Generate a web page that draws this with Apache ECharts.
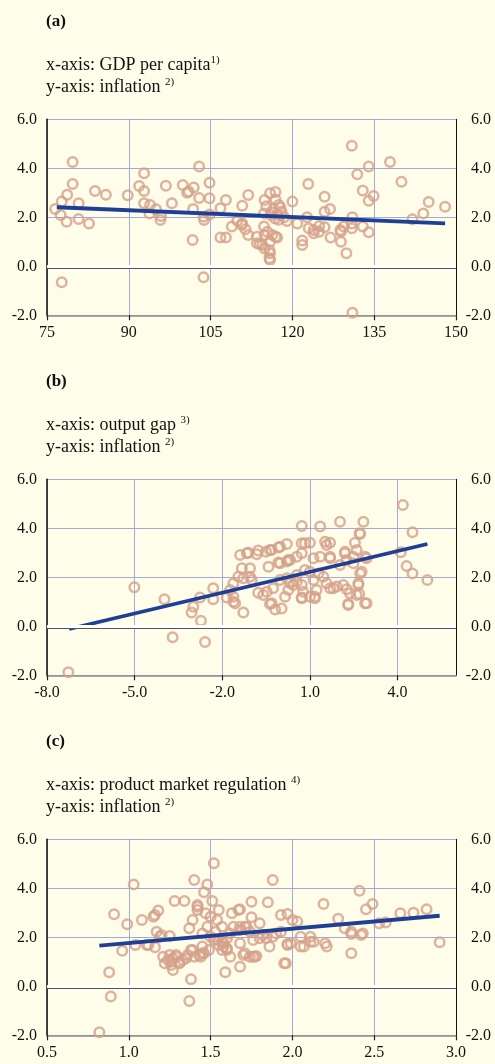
<!DOCTYPE html>
<html>
<head>
<meta charset="utf-8">
<script src="https://cdn.jsdelivr.net/npm/echarts@6/dist/echarts.min.js"></script>
<style>
html,body{margin:0;padding:0;background:#fefdea;}
#chart{width:495px;height:1064px;}
</style>
</head>
<body>
<div id="chart"></div>
<script>
// ---------- DATA ----------
const panelTitles = ['(a)', '(b)', '(c)'];
const xAxisNames = ['GDP per capita', 'output gap ', 'product market regulation '];
const xNotes = ['1)', '3)', '4)'];
const yAxisName = 'inflation ';
const yNote = '2)';
const yTicks = [-2, 0, 2, 4, 6];

// (a) GDP per capita vs inflation
const gdpInflation = [
[76.5,2.34],[77.7,2.64],[78.7,2.92],[79.7,4.26],[79.7,3.36],[80.8,2.57],[77.5,2.09],[78.6,1.82],[80.8,1.93],[82.7,1.75],
[83.8,3.07],[85.8,2.92],[89.8,2.90],[91.9,3.28],[92.8,3.80],[92.8,3.07],[92.8,2.57],[93.9,2.50],[95.0,2.33],[93.8,2.16],
[95.9,2.05],[96.8,3.29],[97.9,2.57],[99.9,3.32],[101.0,3.05],[101.9,3.22],[100.7,3.0],[102.9,4.07],[102.9,2.79],[101.8,2.34],
[103.7,2.02],[104.8,3.41],[104.8,2.78],[104.8,2.11],[106.8,2.37],[107.8,2.71],[110.8,2.47],[111.9,2.91],[114.9,2.71],[115.9,2.98],
[116.9,3.03],[116.9,2.73],[120.0,2.64],[122.9,3.36],[125.9,2.84],[126.9,2.34],[125.9,2.23],[130.9,4.92],[131.9,3.76],[134.0,4.07],
[132.9,3.09],[134.0,2.68],[134.9,2.87],[137.9,4.26],[140.0,3.45],[145.0,2.62],[144.0,2.16],[142.0,1.92],[148.0,2.43],[131.0,2.0],
[122.7,2.0],[95.8,1.89],[103.8,1.89],[101.7,1.07],[106.8,1.18],[107.8,1.18],[108.9,1.62],[110.7,1.69],[111.9,1.28],[114.0,0.91],
[114.9,0.73],[115.9,0.53],[115.9,0.26],[116.9,1.21],[114.9,1.28],[115.9,1.0],[120.9,1.75],[121.8,1.05],[121.8,0.87],[123.0,1.55],
[123.9,1.35],[124.9,1.41],[125.9,1.59],[127.0,1.18],[128.9,1.0],[129.9,0.53],[128.9,1.41],[130.9,1.55],[130.9,1.75],[132.9,1.62],
[134.0,1.39],[77.7,-0.65],[103.7,-0.45],[131.0,-1.9],[118.0,2.23],[114.8,2.16],[116.0,2.09],[109.9,1.86],[110.8,1.75],[111.4,1.51],
[113.5,1.21],[113.5,0.94],[114.8,1.62],[115.4,1.41],[116.3,1.28],[117.2,1.18],[114.5,0.87],[115.8,0.66],[115.8,0.33],[123.9,1.48],
[124.9,1.64],[128.8,1.48],[129.4,1.62],[117.5,2.5],[118.5,2.0],[119.0,1.85],[117.5,1.9],[116.5,2.35],[115.2,2.45],[116.2,2.2],
[117.8,2.4],[117.3,2.1],[116.8,1.95]
];
const gdpFit = [[76.8,2.41],[148.0,1.75]];

// (b) output gap vs inflation
const gapInflation = [
[4.18,4.95],[4.51,3.84],[4.11,3.02],[4.31,2.46],[4.51,2.16],[5.02,1.89],[0.72,4.09],[1.35,4.07],[2.03,4.27],[2.83,4.27],
[2.72,3.77],[2.54,3.41],[2.60,3.11],[2.94,2.78],[1.52,3.45],[1.00,3.41],[0.83,3.39],[0.21,3.36],[-0.08,3.22],[-0.37,3.11],
[-0.77,3.09],[-0.82,2.94],[-1.39,2.91],[-1.16,2.98],[-0.42,2.43],[-0.02,2.57],[0.26,2.71],[-1.33,2.37],[-1.05,2.37],[-1.62,1.76],
[-5.01,1.59],[-2.31,1.55],[2.72,2.16],[2.66,1.69],[-3.98,1.10],[-2.76,1.18],[-2.99,0.80],[-3.05,0.56],[-2.73,0.23],[-2.31,1.10],
[-1.85,1.18],[-1.62,1.0],[-1.28,0.56],[-3.70,-0.45],[-2.59,-0.64],[-7.27,-1.88],[-0.77,1.37],[-0.48,1.41],[-0.37,0.91],[-0.19,0.69],
[0.03,0.73],[0.15,1.21],[0.72,1.18],[1.17,1.21],[1.80,1.55],[2.31,0.91],[2.69,1.32],[2.94,0.94],[2.26,1.51],[2.70,3.80],
[2.89,2.84],[2.2,3.04],[1.69,3.41],[1.57,3.32],[0.72,3.39],[-0.02,3.25],[-0.31,3.11],[-0.5,3.04],[-1.11,3.0],[-0.08,2.6],
[0.21,2.64],[0.32,2.71],[-1.05,2.02],[-1.28,1.96],[-0.99,1.89],[-1.45,2.02],[-1.73,1.48],[-1.62,1.21],[-1.56,0.94],[-0.60,1.28],
[-0.26,1.55],[-0.31,0.94],[0.26,1.48],[0.32,1.76],[0.55,1.82],[0.72,1.69],[0.77,1.41],[0.72,1.14],[1.0,1.21],[1.17,1.14],
[1.23,1.48],[1.12,1.89],[1.0,2.23],[0.83,2.30],[1.29,2.16],[1.46,2.02],[1.57,1.76],[1.69,1.55],[1.92,1.62],[2.14,1.69],
[2.37,1.35],[2.31,0.87],[2.66,1.76],[2.77,2.23],[2.6,1.28],[2.89,0.94],[0.55,2.84],[0.72,2.98],[1.12,2.78],[1.35,2.84],
[1.69,2.78],[2.03,2.50],[2.26,2.71],[2.49,2.57],[-0.02,1.89],[0.21,1.96],[0.55,2.09],[0.43,1.69],[1.69,2.84],[2.2,2.98],
[2.49,2.84]
];
const gapFit = [[-7.24,-0.11],[5.02,3.36]];

// (c) product market regulation vs inflation
const pmrInflation = [
[1.52,5.02],[1.03,4.16],[1.40,4.34],[1.48,4.16],[1.46,3.84],[1.88,4.34],[2.41,3.90],[0.91,2.94],[0.99,2.53],[1.08,2.71],
[1.15,2.84],[1.18,3.09],[1.28,3.48],[1.34,3.48],[1.42,3.32],[1.42,3.11],[1.51,3.48],[1.55,3.11],[1.63,2.98],[1.68,3.14],
[1.75,3.45],[1.85,3.43],[1.75,2.82],[1.80,2.57],[1.93,2.91],[1.97,2.95],[2.0,2.71],[2.03,2.64],[2.19,3.36],[2.28,2.76],
[2.45,3.14],[2.49,3.36],[2.66,2.98],[2.74,3.0],[2.82,3.14],[2.53,2.57],[2.57,2.6],[2.32,2.37],[2.36,2.23],[2.43,2.16],
[1.37,2.37],[1.50,2.84],[1.54,2.71],[1.57,2.43],[1.68,2.43],[1.72,2.43],[1.17,2.23],[1.25,2.05],[0.82,-1.88],[0.89,-0.42],
[0.88,0.57],[0.96,1.45],[1.04,1.69],[1.11,1.69],[1.16,1.59],[1.19,2.02],[1.22,0.94],[1.26,1.0],[1.27,0.67],[1.29,1.21],
[1.25,1.28],[1.31,0.94],[1.35,1.14],[1.38,1.48],[1.38,0.29],[1.37,-0.60],[1.44,1.21],[1.46,1.35],[1.45,1.62],[1.52,1.89],
[1.58,1.76],[1.60,1.48],[1.68,1.76],[1.70,1.28],[1.76,1.21],[1.78,1.24],[1.68,0.80],[1.59,0.57],[1.86,1.62],[1.96,0.94],
[1.97,1.73],[2.05,1.62],[2.11,2.02],[2.13,1.82],[2.20,1.76],[2.21,1.62],[2.36,1.35],[2.36,2.13],[2.42,2.09],[2.90,1.80],
[1.42,3.25],[1.47,2.98],[1.67,3.11],[1.16,2.91],[1.20,2.09],[1.39,2.71],[1.45,2.16],[1.48,2.43],[1.50,2.02],[1.53,2.23],
[1.54,1.89],[1.57,1.82],[1.58,1.62],[1.60,1.96],[1.62,2.16],[1.64,2.43],[1.68,2.30],[1.71,2.43],[1.74,2.23],[1.76,1.89],
[1.80,1.96],[1.82,2.09],[1.84,1.96],[1.88,2.02],[1.90,2.16],[1.93,2.23],[1.97,1.69],[1.99,1.76],[2.05,2.02],[2.07,1.62],
[2.11,1.82],[1.12,1.69],[1.21,1.21],[1.24,1.07],[1.26,0.87],[1.27,1.14],[1.29,1.28],[1.31,1.0],[1.33,1.07],[1.36,1.28],
[1.39,1.48],[1.40,1.21],[1.43,1.28],[1.45,1.35],[1.49,1.48],[1.55,1.69],[1.57,1.48],[1.60,1.55],[1.62,1.21],[1.71,1.35],
[1.74,1.21],[1.77,1.21],[1.95,0.94]
];
const pmrFit = [[0.82,1.66],[2.90,2.88]];

const xRanges = [
  {min: 75, max: 150, interval: 15, digits: 0},
  {min: -8, max: 6, interval: 3, digits: 1},
  {min: 0.5, max: 3.0, interval: 0.5, digits: 1}
];
const scatterData = [gdpInflation, gapInflation, pmrInflation];
const fitData = [gdpFit, gapFit, pmrFit];

// ---------- STYLE ----------
const FONT = 'Liberation Serif';
const BG = '#fefdea';
const GRIDC = '#a3a9dd';
const DOT = '#d6a089';
const FIT = '#1d3f96';
const TXT = '#111111';
const PANEL_TOP = [119.3, 479.3, 839.3];
const PANEL_H = 196;

const grids = [], xAxes = [], yAxes = [], series = [], titles = [];
for (let i = 0; i < 3; i++) {
  const top = PANEL_TOP[i];
  grids.push({left: 47, right: 39, top: top, height: PANEL_H, containLabel: false});
  const xr = xRanges[i];
  xAxes.push({
    type: 'value', gridIndex: i, min: xr.min, max: xr.max, interval: xr.interval,
    axisLine: {show: true, onZero: false, lineStyle: {color: '#8c8c8c', width: 1.6}},
    axisTick: {show: true, length: 5, lineStyle: {color: '#222', width: 1.2}},
    axisLabel: {show: true, margin: 9, fontFamily: FONT, fontSize: 16, color: TXT,
      showMaxLabel: i !== 1,
      formatter: v => v.toFixed(xr.digits)},
    splitLine: {show: true, lineStyle: {color: GRIDC, width: 1}}
  });
  yAxes.push({
    type: 'value', gridIndex: i, min: -2, max: 6, interval: 2, position: 'left',
    axisLine: {show: true, onZero: false, lineStyle: {color: '#111', width: 1.5}},
    axisTick: {show: false},
    axisLabel: {fontFamily: FONT, fontSize: 16, color: TXT, margin: 10, formatter: v => v.toFixed(1)},
    splitLine: {show: true, lineStyle: {color: GRIDC, width: 1}}
  });
  yAxes.push({
    type: 'value', gridIndex: i, min: -2, max: 6, interval: 2, position: 'right',
    axisLine: {show: true, onZero: false, lineStyle: {color: '#111', width: 1}},
    axisTick: {show: false},
    axisLabel: {fontFamily: FONT, fontSize: 16, color: TXT, margin: 35, align: 'right', formatter: v => v.toFixed(1)},
    splitLine: {show: false}
  });
  series.push({
    type: 'line', xAxisIndex: i, yAxisIndex: 2 * i, data: [], silent: true,
    markLine: {
      silent: true, symbol: 'none', label: {show: false},
      data: [
        {yAxis: 0, lineStyle: {color: '#ffffff', width: 3, type: 'solid'}},
        {yAxis: -0.085, lineStyle: {color: '#555555', width: 1, type: 'solid'}}
      ]
    },
    z: 1
  });
  series.push({
    type: 'scatter', xAxisIndex: i, yAxisIndex: 2 * i, data: scatterData[i],
    symbol: 'circle', symbolSize: 9.5,
    itemStyle: {color: 'rgba(0,0,0,0)', borderColor: DOT, borderWidth: 2.5},
    z: 3
  });
  series.push({
    type: 'line', xAxisIndex: i, yAxisIndex: 2 * i, data: fitData[i],
    symbol: 'none', lineStyle: {color: FIT, width: 3.8}, z: 4
  });
  const t0 = top - 119.3;
  titles.push({
    text: panelTitles[i], left: 46, top: t0 + 13.5, padding: 0,
    textStyle: {fontFamily: FONT, fontSize: 17, fontWeight: 'bold', color: TXT}
  });
  titles.push({
    text: 'x-axis: ' + xAxisNames[i] + '{s|' + xNotes[i] + '}\ny-axis: ' + yAxisName + '{s|' + yNote + '}',
    left: 46, top: t0 + 54.5, padding: 0,
    textStyle: {fontFamily: FONT, fontSize: 18, fontWeight: 'normal', color: TXT, lineHeight: 22,
      rich: {s: {fontFamily: FONT, fontSize: 11, fontWeight: 'normal', color: TXT, verticalAlign: 'top', lineHeight: 22}}}
  });
}

const chart = echarts.init(document.getElementById('chart'), null, {renderer: 'canvas'});
chart.setOption({
  backgroundColor: BG,
  animation: false,
  title: titles,
  grid: grids,
  xAxis: xAxes,
  yAxis: yAxes,
  series: series
});
</script>
</body>
</html>
